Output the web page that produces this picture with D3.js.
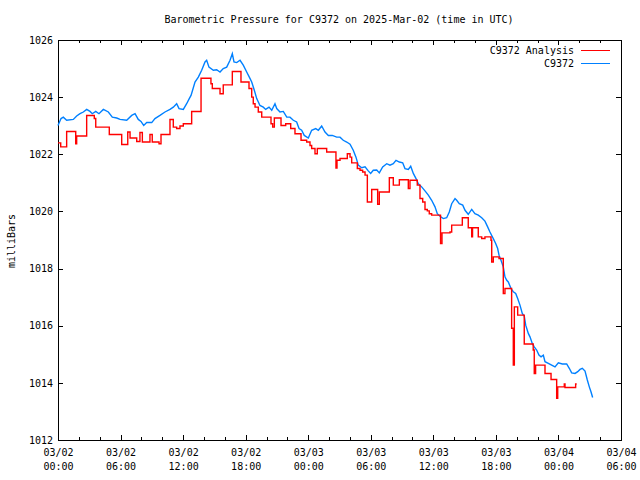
<!DOCTYPE html>
<html><head><meta charset="utf-8">
<script src="https://cdn.jsdelivr.net/npm/d3@7"></script>
<style>body{margin:0;background:#fff}</style>
</head><body>
<svg id="c" width="640" height="480"></svg>
<script>
const title = "Barometric Pressure for C9372 on 2025-Mar-02 (time in UTC)";
const yLabel = "milliBars";
const seriesNames = ["C9372 Analysis", "C9372"];
const seriesColors = ["#ff0000", "#0080ff"];
const startUTC = Date.UTC(2025, 2, 2, 0, 0);
const xSpanHours = 54;
const yTicks = [1012, 1014, 1016, 1018, 1020, 1022, 1024, 1026];

// C9372 Analysis (hours since 03/02 00:00 UTC, step values)
const analysisHours = [0,0.26,0.83,1.70,1.79,2.75,3.48,3.62,4.92,6.11,6.69,6.91,7.55,7.86,8.09,8.82,9.04,9.69,9.88,10.74,11.06,11.38,11.70,12.02,12.82,13.72,14.67,14.80,15.54,15.85,16.72,17.55,18.32,18.58,18.73,18.90,19.21,19.54,20.43,20.59,20.75,21.39,21.84,22.32,22.73,23.31,23.85,24.17,24.33,24.65,24.87,25.77,26.66,26.76,27.05,27.75,28.01,28.17,28.71,28.97,29.22,29.45,29.67,30.09,30.66,30.82,31.78,32.16,32.74,33.60,33.76,34.46,34.72,34.98,35.20,35.42,35.61,35.84,36.69,36.83,37.60,37.76,38.78,39.35,39.68,39.76,40.31,40.64,40.95,41.53,41.60,41.75,42.30,42.71,42.87,43.51,43.67,43.77,44.09,44.72,45.58,45.68,45.81,46.71,47.29,47.83,47.93,48.56,48.63,49.65,49.75];
const analysisPressure = [1022.40,1022.26,1022.80,1022.37,1022.64,1023.36,1023.25,1022.95,1022.69,1022.34,1022.78,1022.57,1022.45,1022.76,1022.43,1022.69,1022.43,1022.37,1022.69,1023.22,1022.95,1022.90,1022.99,1023.07,1023.50,1024.66,1024.47,1024.30,1024.12,1024.43,1024.90,1024.53,1024.30,1024.00,1023.77,1023.65,1023.48,1023.30,1023.07,1022.95,1023.27,1023.01,1023.07,1022.90,1022.72,1022.49,1022.43,1022.31,1022.20,1022.02,1022.20,1022.08,1021.52,1021.79,1021.85,1022.02,1021.90,1021.70,1021.50,1021.44,1021.38,1021.27,1020.33,1020.77,1020.25,1020.68,1021.18,1020.92,1021.11,1020.80,1021.09,1020.92,1020.45,1020.33,1020.07,1020.02,1019.92,1019.87,1018.88,1019.25,1019.28,1019.52,1019.78,1019.43,1019.11,1019.43,1019.11,1019.05,1019.11,1018.99,1018.23,1018.41,1018.35,1017.13,1017.30,1015.91,1014.62,1016.66,1016.37,1015.36,1015.15,1014.33,1014.62,1014.33,1014.12,1013.46,1013.86,1013.96,1013.84,1013.96,1013.96];

// C9372 observations
const obsHours = [0,0.29,0.51,0.83,1.47,1.79,2.11,2.43,2.75,3.07,3.29,3.62,3.93,4.35,4.83,5.21,5.63,5.95,6.59,7.07,7.39,7.70,7.96,8.22,8.51,8.99,9.30,9.78,10.26,10.74,11.06,11.38,11.61,12.02,12.34,12.59,12.76,13.14,13.46,13.78,14.10,14.26,14.48,14.90,15.22,15.54,15.85,16.18,16.50,16.72,16.88,17.14,17.46,17.77,18.10,18.35,18.58,18.83,19.06,19.37,19.69,19.92,20.24,20.50,20.81,20.98,21.29,21.61,21.94,22.25,22.57,22.89,23.12,23.37,23.62,24.01,24.33,24.72,24.97,25.29,25.61,25.93,26.31,26.73,27.05,27.36,27.69,28.01,28.32,28.58,28.80,29.13,29.45,29.76,29.99,30.24,30.57,30.82,31.14,31.53,31.84,32.16,32.42,32.74,33.06,33.28,33.60,33.83,34.08,34.34,34.56,34.88,35.20,35.52,35.84,36.16,36.38,36.64,36.96,37.28,37.53,37.76,38.08,38.24,38.49,38.82,39.04,39.35,39.68,39.99,40.31,40.64,40.95,41.21,41.43,41.75,41.98,42.17,42.30,42.49,42.71,42.87,43.04,43.19,43.45,43.67,43.90,44.09,44.31,44.53,44.72,44.86,45.11,45.27,45.49,45.68,45.91,46.13,46.33,46.55,46.71,47.03,47.35,47.67,47.99,48.37,48.79,49.04,49.27,49.59,49.85,50.07,50.29,50.55,50.77,50.96,51.12,51.28];
const obsPressure = [1023.01,1023.25,1023.30,1023.19,1023.22,1023.34,1023.42,1023.48,1023.57,1023.50,1023.42,1023.50,1023.42,1023.57,1023.48,1023.30,1023.27,1023.22,1023.19,1023.36,1023.42,1023.22,1023.15,1023.01,1023.11,1023.11,1023.25,1023.36,1023.48,1023.57,1023.65,1023.77,1023.60,1023.57,1023.77,1023.95,1024.06,1024.53,1024.70,1024.94,1025.23,1025.29,1025.05,1024.94,1024.96,1024.88,1025.00,1025.05,1025.29,1025.52,1025.23,1025.21,1025.29,1025.12,1024.88,1024.70,1024.53,1024.24,1023.95,1023.71,1023.65,1023.57,1023.65,1023.54,1023.77,1023.60,1023.48,1023.50,1023.30,1023.30,1023.19,1023.13,1022.90,1022.84,1022.66,1022.57,1022.84,1022.90,1022.84,1022.99,1022.78,1022.66,1022.66,1022.60,1022.60,1022.49,1022.43,1022.35,1022.14,1021.90,1021.62,1021.53,1021.56,1021.42,1021.33,1021.44,1021.45,1021.35,1021.56,1021.67,1021.62,1021.67,1021.79,1021.73,1021.70,1021.50,1021.47,1021.58,1021.33,1021.15,1020.97,1020.86,1020.72,1020.57,1020.39,1020.16,1019.92,1019.83,1019.75,1019.78,1019.98,1020.27,1020.45,1020.39,1020.27,1020.22,1020.04,1019.90,1020.07,1019.92,1019.87,1019.78,1019.66,1019.46,1019.28,1019.05,1018.88,1018.70,1018.47,1018.29,1018.06,1017.71,1017.59,1017.53,1017.30,1017.19,1017.13,1016.95,1016.72,1016.43,1016.34,1016.02,1015.73,1015.61,1015.38,1015.26,1015.15,1014.97,1014.91,1014.97,1014.74,1014.68,1014.62,1014.56,1014.70,1014.66,1014.66,1014.51,1014.35,1014.33,1014.39,1014.47,1014.51,1014.41,1014.10,1013.86,1013.69,1013.49];

const FONT = "'DejaVu Sans Mono', 'Liberation Mono', monospace";
const svg = d3.select("#c");
const L = 58, R = 621, T = 40, B = 440;
const toDate = h => new Date(startUTC + h * 3600e3);

const x = d3.scaleUtc().domain([toDate(0), toDate(xSpanHours)]).range([L, R]);
const y = d3.scaleLinear().domain([yTicks[0], yTicks[yTicks.length - 1]]).range([B, T]);

svg.append("rect").attr("width", 640).attr("height", 480).attr("fill", "#fff");

function styleAxis(g) {
  g.attr("font-family", FONT).attr("font-size", 10);
  g.select(".domain").remove();
  g.selectAll("line").attr("stroke", "#000").attr("shape-rendering", "crispEdges");
  g.selectAll("text").attr("fill", "#000");
}

// minor x ticks (every 2h) bottom and top
svg.append("g").attr("transform", `translate(0,${B})`)
  .call(d3.axisBottom(x).ticks(d3.utcHour.every(2)).tickSize(-3).tickFormat(""))
  .call(styleAxis);
svg.append("g").attr("transform", `translate(0,${T})`)
  .call(d3.axisTop(x).ticks(d3.utcHour.every(2)).tickSize(-3).tickFormat(""))
  .call(styleAxis);

// major x ticks
const fDate = d3.utcFormat("%m/%d"), fTime = d3.utcFormat("%H:%M");
const xb = svg.append("g").attr("transform", `translate(0,${B})`)
  .call(d3.axisBottom(x).ticks(d3.utcHour.every(6)).tickSizeInner(-5).tickSizeOuter(0).tickPadding(10).tickFormat(""))
  .call(styleAxis);
xb.selectAll(".tick text").each(function(d) {
  const t = d3.select(this);
  t.append("tspan").attr("x", 0).attr("dy", "0.6em").text(fDate(d));
  t.append("tspan").attr("x", 0).attr("dy", "1.4em").text(fTime(d));
});
svg.append("g").attr("transform", `translate(0,${T})`)
  .call(d3.axisTop(x).ticks(d3.utcHour.every(6)).tickSize(-5).tickFormat(""))
  .call(styleAxis);

// y axes
svg.append("g").attr("transform", `translate(${L},0)`)
  .call(d3.axisLeft(y).tickValues(yTicks).tickSizeInner(-5).tickSizeOuter(0).tickPadding(5).tickFormat(d3.format("d")))
  .call(styleAxis);
svg.append("g").attr("transform", `translate(${R},0)`)
  .call(d3.axisRight(y).tickValues(yTicks).tickSize(-5).tickFormat(""))
  .call(styleAxis);

// border
svg.append("rect").attr("x", L + 0.5).attr("y", T + 0.5).attr("width", R - L).attr("height", B - T)
  .attr("fill", "none").attr("stroke", "#000").attr("stroke-width", 1).attr("shape-rendering", "crispEdges");

// series
const analysis = analysisHours.map((h, i) => ({ t: toDate(h), v: analysisPressure[i] }));
const obs = obsHours.map((h, i) => ({ t: toDate(h), v: obsPressure[i] }));

svg.append("path").datum(obs)
  .attr("fill", "none").attr("stroke", seriesColors[1]).attr("stroke-width", 1.4)
  .attr("d", d3.line().x(d => x(d.t)).y(d => y(d.v)));
svg.append("path").datum(analysis)
  .attr("fill", "none").attr("stroke", seriesColors[0]).attr("stroke-width", 1.4)
  .attr("d", d3.line().curve(d3.curveStepAfter).x(d => x(d.t)).y(d => y(d.v)));

// title
svg.append("text").attr("x", 339).attr("y", 23).attr("text-anchor", "middle")
  .attr("font-family", FONT).attr("font-size", 10).text(title);

// y label
svg.append("text").attr("transform", "translate(15,241) rotate(-90)").attr("text-anchor", "middle")
  .attr("font-family", FONT).attr("font-size", 10).text(yLabel);

// legend
seriesNames.forEach((name, i) => {
  const yy = 50 + i * 13;
  svg.append("text").attr("x", 574).attr("y", yy).attr("dy", "0.35em").attr("text-anchor", "end")
    .attr("font-family", FONT).attr("font-size", 10).text(name);
  svg.append("line").attr("x1", 581).attr("x2", 610).attr("y1", yy + 0.5).attr("y2", yy + 0.5)
    .attr("stroke", seriesColors[i]).attr("stroke-width", 1);
});
</script>
</body></html>
